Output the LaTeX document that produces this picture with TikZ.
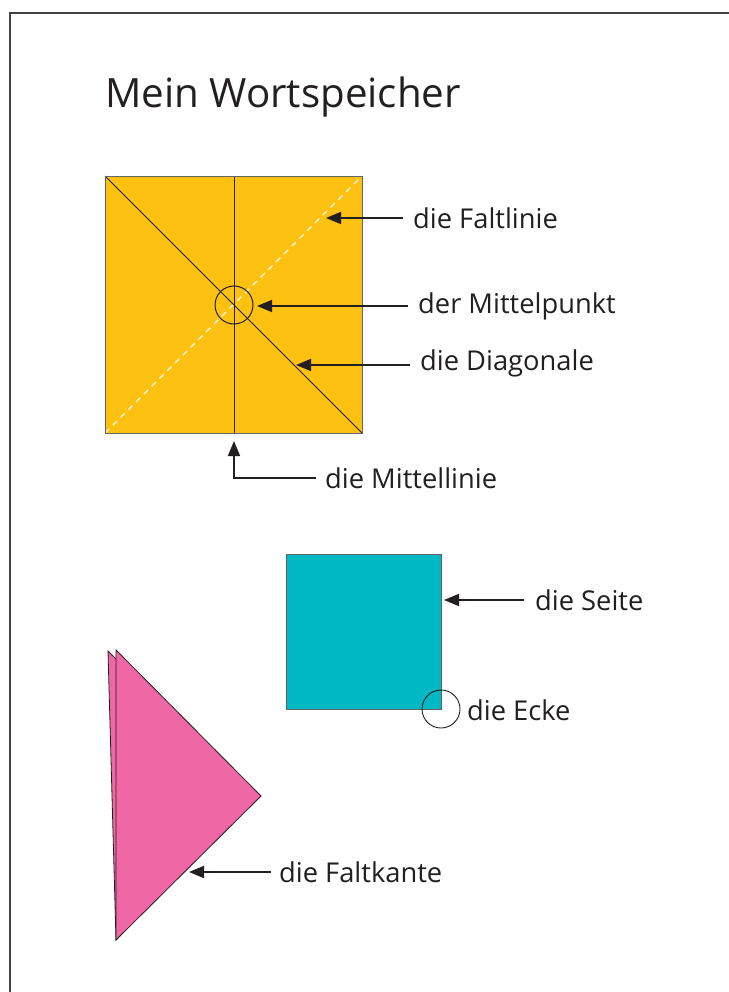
\documentclass[tikz,border=0pt]{standalone}
\usepackage{fontspec}
\setmainfont{Open Sans}
\usetikzlibrary{arrows.meta}
\definecolor{foldyellow}{HTML}{FDC112}
\definecolor{paperteal}{HTML}{00B7C4}
\definecolor{paperpink}{HTML}{EF67A5}
\definecolor{inkdark}{HTML}{231F20}
\tikzset{
  pointer/.style={draw=inkdark, line width=1.6pt, -{Triangle[length=15pt,width=12pt]}},
  label/.style={anchor=west, inner sep=0pt, font=\fontsize{27.3}{32}\selectfont, text=inkdark},
  thinline/.style={draw=inkdark, line width=0.9pt},
}
\begin{document}
\begin{tikzpicture}[x=1pt,y=-1pt]
\useasboundingbox (0,0) rectangle (728,992);
\fill[white] (0,0) rectangle (728,992);
% page frame, cut at the right and bottom
\draw[draw=inkdark!85, line width=1.5pt] (10,1010) -- (10,13) -- (745,13);

% title
\node[anchor=base west, inner sep=0pt, font=\fontsize{40.3}{46}\selectfont, text=inkdark] (title) at (105,108) {Mein Wortspeicher};

% yellow folded square
\coordinate (ytl) at (105,176);
\coordinate (ytr) at (362,176);
\coordinate (ybr) at (362,433);
\coordinate (ybl) at (105,433);
\coordinate (ytm) at (234,176);
\coordinate (ybm) at (234,433);
\coordinate (yc) at (234,305);
\fill[foldyellow] (ytl) rectangle (ybr);
\draw[draw=white!85!foldyellow, line width=1.1pt, dash pattern=on 6pt off 5pt] (ybl) -- (ytr);
\draw[thinline] (ytl) -- (ybr);
\draw[thinline] (ytm) -- (ybm);
\draw[draw=gray!80!black, line width=0.8pt] (ytl) rectangle (ybr);
\node[draw=inkdark, line width=1pt, circle, minimum size=38pt, inner sep=0pt] (mid) at (yc) {};

% labels of the yellow square
\node[label] (faltlinie) at (413,218) {die Faltlinie};
\node[label] (mittelpunkt) at (418,306) {der Mittelpunkt};
\node[label] (diagonale) at (420,363) {die Diagonale};
\node[label] (mittellinie) at (325,478) {die Mittellinie};
\coordinate (tipFL) at (326,218);
\coordinate (tipMP) at (257,306);
\coordinate (tipDG) at (296,365);
\coordinate (tipML) at (234,441);
\coordinate (bendML) at (234,478);
\draw[pointer] ([xshift=-10pt]faltlinie.west) -- (tipFL);
\draw[pointer] ([xshift=-10pt]mittelpunkt.west) -- (tipMP);
\draw[pointer] ([xshift=-10pt]diagonale.west |- tipDG) -- (tipDG);
\draw[pointer] ([xshift=-9pt]mittellinie.west) -- (bendML) -- (tipML);

% teal square
\coordinate (ttl) at (286,554);
\coordinate (tbr) at (441,709);
\fill[paperteal] (ttl) rectangle (tbr);
\draw[draw=inkdark!70, line width=0.6pt] (ttl) rectangle (tbr);
\node[draw=inkdark, line width=0.9pt, circle, minimum size=38pt, inner sep=0pt] (corner) at (tbr) {};
\node[label] (seite) at (535,600) {die Seite};
\node[label] (ecke) at (467,710) {die Ecke};
\coordinate (tipSE) at (444,600);
\draw[pointer] ([xshift=-11pt]seite.west) -- (tipSE);

% pink folded triangle, back layer then front layer
\fill[paperpink, draw=inkdark, line width=0.8pt] (108,651) -- (252,796) -- (116,940) -- cycle;
\fill[paperpink, draw=inkdark, line width=0.8pt] (116,650) -- (261,796) -- (116,940) -- cycle;
\node[label] (faltkante) at (279,872) {die Faltkante};
\coordinate (tipFK) at (189,872);
\draw[pointer] ([xshift=-8pt]faltkante.west) -- (tipFK);
\end{tikzpicture}
\end{document}
